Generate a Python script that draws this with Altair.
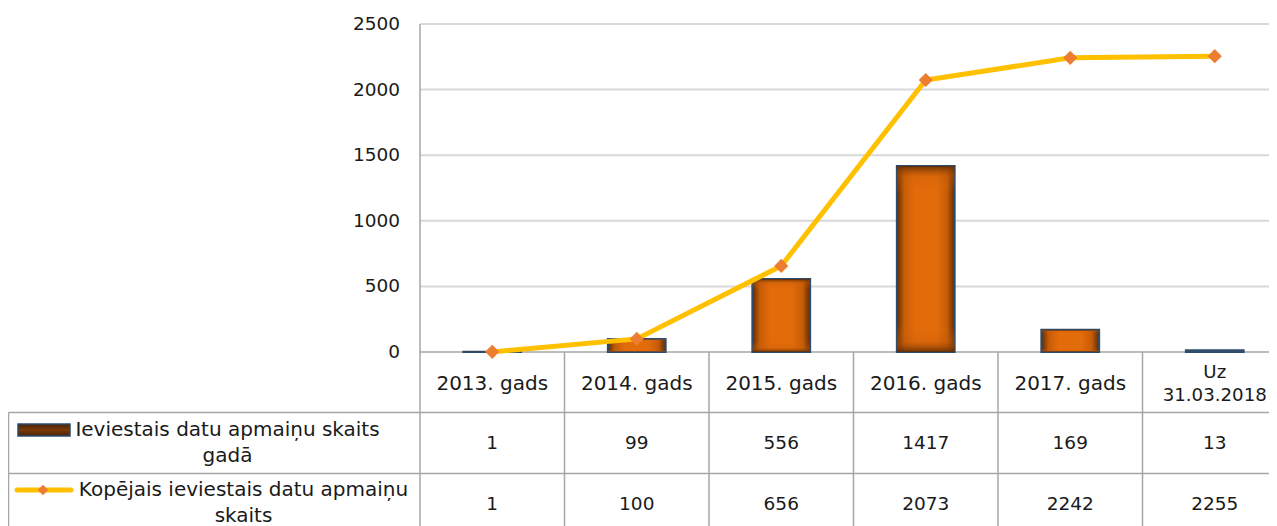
import altair as alt
import pandas as pd

# ---------------- data ----------------
categories = ["2013. gads", "2014. gads", "2015. gads", "2016. gads", "2017. gads", "Uz\n31.03.2018"]
yearly = [1, 99, 556, 1417, 169, 13]
cumulative = [1, 100, 656, 2073, 2242, 2255]
series_names = ["Ieviestais datu apmaiņu skaits\ngadā", "Kopējais ieviestais datu apmaiņu\nskaits"]
y_ticks = [0, 500, 1000, 1500, 2000, 2500]

# ---------------- layout ----------------
W, H = 1261, 518
COL_PX = 144.5                     # width of one category column in px
X_MIN = -412 / COL_PX              # label column to the left of the plot
X_MAX = X_MIN + W / COL_PX
UPP = 2500 / 328                   # value units per pixel
Y_MAX = 2500 + 16 * UPP
Y_MIN = -(H - 344) * UPP


def xu(px):
    return X_MIN + (px - 8) / COL_PX


def yu(py):
    return (352 - py) * UPP


ROW_B = [yu(352), yu(412.5), yu(473.5)]
FONT = "DejaVu Sans"
GRID = "#D9D9D9"
BORDER = "#A6A6A6"
TXT = "#1a1a1a"

xs = alt.Scale(domain=[X_MIN, X_MAX], nice=False, zero=False)
ys = alt.Scale(domain=[Y_MIN, Y_MAX], nice=False, zero=False)


def X(f="x"):
    return alt.X(f"{f}:Q", scale=xs, axis=None)


def Y(f="y"):
    return alt.Y(f"{f}:Q", scale=ys, axis=None)


n = len(categories)
centers = [i + 0.5 for i in range(n)]

main = pd.DataFrame({"cat": categories, "x": centers,
                     "x0": [c - 0.2 for c in centers], "x1": [c + 0.2 for c in centers],
                     "yearly": yearly, "cum": cumulative})

# grid lines
grid_df = pd.DataFrame({"y": [t for t in y_ticks if t > 0], "x": 0.0, "x2": X_MAX})
grid = alt.Chart(grid_df).mark_rule(color=GRID, strokeWidth=2).encode(x=X(), x2="x2:Q", y=Y())

# horizontal table/axis lines
hl_df = pd.DataFrame({"y": ROW_B,
                      "x": [0.0, xu(8.5), xu(8.5)], "x2": [X_MAX] * 3})
hlines = alt.Chart(hl_df).mark_rule(color=BORDER, strokeWidth=1.5).encode(x=X(), x2="x2:Q", y=Y())

# vertical lines
vl_df = pd.DataFrame({"x": [0.0] + [float(i) for i in range(1, n)] + [xu(8.5)],
                      "y": [2500.0] + [ROW_B[0]] * (n - 1) + [ROW_B[1]],
                      "y2": [Y_MIN] * (n + 1)})
vlines = alt.Chart(vl_df).mark_rule(color=BORDER, strokeWidth=1.5).encode(x=X(), y=Y(), y2="y2:Q")

# bars
grad_h = {"gradient": "linear", "x1": 0, "x2": 1, "y1": 0, "y2": 0,
          "stops": [{"offset": 0, "color": "#5E2C04"}, {"offset": 0.13, "color": "#C65C08"},
                    {"offset": 0.3, "color": "#E26B0A"}, {"offset": 0.7, "color": "#E26B0A"},
                    {"offset": 0.87, "color": "#C65C08"}, {"offset": 1, "color": "#5E2C04"}]}
grad_v = {"gradient": "linear", "x1": 0, "x2": 0, "y1": 0, "y2": 1,
          "stops": [{"offset": 0, "color": "rgba(94,44,4,0.9)"}, {"offset": 0.06, "color": "rgba(198,92,8,0.3)"},
                    {"offset": 0.15, "color": "rgba(226,107,10,0)"}, {"offset": 0.85, "color": "rgba(226,107,10,0)"},
                    {"offset": 0.94, "color": "rgba(198,92,8,0.3)"}, {"offset": 1, "color": "rgba(94,44,4,0.9)"}]}
bars = alt.Chart(main).mark_bar(color=grad_h, stroke="#2B4C6F", strokeWidth=2).encode(
    x=X("x0"), x2="x1:Q", y=Y("yearly"), y2=alt.datum(0))
bars_shade = alt.Chart(main).mark_bar(color=grad_v).encode(
    x=X("x0"), x2="x1:Q", y=Y("yearly"), y2=alt.datum(0))

# line + markers
line = alt.Chart(main).mark_line(color="#FFC000", strokeWidth=5).encode(x=X(), y=Y("cum"))
pts = alt.Chart(main).mark_point(shape="diamond", filled=True, color="#ED7D31", size=200, opacity=1).encode(
    x=X(), y=Y("cum"))

# y tick labels
tick_df = pd.DataFrame({"y": y_ticks, "x": xu(400), "label": [str(t) for t in y_ticks]})
ticks = alt.Chart(tick_df).mark_text(align="right", baseline="middle", font=FONT, fontSize=18.5, color=TXT).encode(
    x=X(), y=Y(), text="label:N")

# table header (categories); first line placed so the block is centred in the row
HDR_LH = 23
hdr_df = pd.DataFrame({"x": centers,
                       "y": [yu(384 - (c.count("\n")) * HDR_LH / 2) for c in categories],
                       "fs": [18.2 if "\n" in c else 20 for c in categories],
                       "label": categories})
header = alt.Chart(hdr_df).mark_text(align="center", baseline="middle", font=FONT,
                                     lineBreak="\n", lineHeight=HDR_LH, color=TXT).encode(
    x=X(), y=Y(), text="label:N", size=alt.Size("fs:Q", scale=None, legend=None))

# table values
val_df = pd.DataFrame({"x": centers * 2,
                       "y": [yu(443)] * n + [yu(504)] * n,
                       "label": [str(v) for v in yearly] + [str(v) for v in cumulative]})
values = alt.Chart(val_df).mark_text(align="center", baseline="middle", font=FONT, fontSize=18.5, color=TXT).encode(
    x=X(), y=Y(), text="label:N")

# row headers
rh_df = pd.DataFrame({"x": [xu(227.5), xu(243.5)], "y": [yu(430), yu(490)], "label": series_names})
rowhead = alt.Chart(rh_df).mark_text(align="center", baseline="middle", font=FONT, fontSize=20,
                                     lineBreak="\n", lineHeight=26, color=TXT).encode(
    x=X(), y=Y(), text="label:N")

# legend symbols inside the table
sym_bar_df = pd.DataFrame({"x": [xu(18)], "x2": [xu(70)], "y": [yu(424)], "y2": [yu(436)]})
sym_bar = alt.Chart(sym_bar_df).mark_rect(color={"gradient": "linear", "x1": 0, "x2": 0, "y1": 0, "y2": 1,
                                                 "stops": [{"offset": 0, "color": "#4A2303"},
                                                           {"offset": 0.5, "color": "#7A3A06"},
                                                           {"offset": 1, "color": "#4A2303"}]},
                                          stroke="#2B4C6F", strokeWidth=1.5).encode(
    x=X(), x2="x2:Q", y=Y(), y2="y2:Q")
sym_line_df = pd.DataFrame({"x": [xu(17), xu(71)], "y": [yu(490), yu(490)]})
sym_line = alt.Chart(sym_line_df).mark_line(color="#FFC000", strokeWidth=5, strokeCap="round").encode(
    x=X(), y=Y())
sym_pt_df = pd.DataFrame({"x": [xu(43)], "y": [yu(490)]})
sym_pt = alt.Chart(sym_pt_df).mark_point(shape="diamond", filled=True, color="#ED7D31", size=110, opacity=1).encode(
    x=X(), y=Y())

chart = alt.layer(grid, hlines, vlines, bars, bars_shade, line, pts, ticks, header, values, rowhead,
                  sym_bar, sym_line, sym_pt).properties(
    width=W, height=H, padding=0, autosize=alt.AutoSizeParams(type="none"),
    background="white"
).configure_view(stroke=None)

chart.save("out.html", embed_options={"renderer": "svg", "actions": False})
